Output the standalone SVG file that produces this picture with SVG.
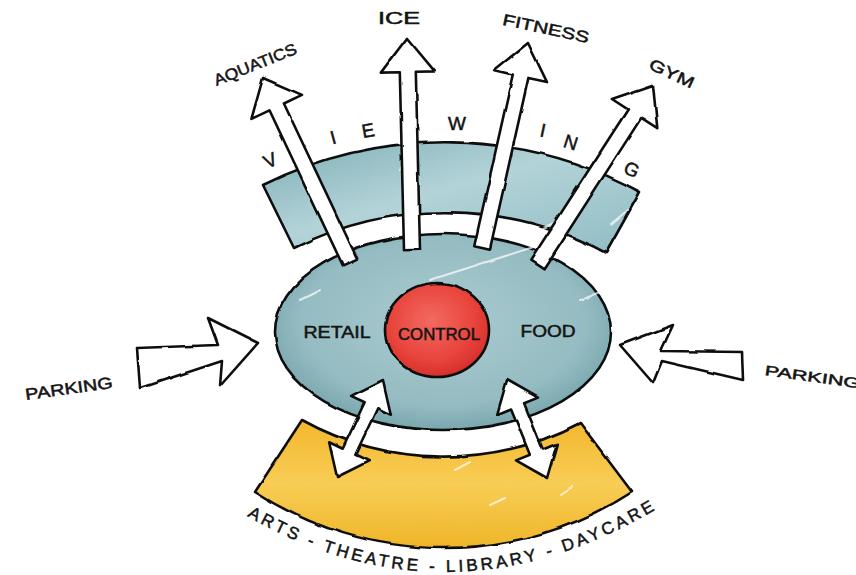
<svg xmlns="http://www.w3.org/2000/svg" width="856" height="575" viewBox="0 0 856 575">
<defs>
  <filter id="rough" x="-5%" y="-5%" width="110%" height="110%">
    <feTurbulence type="fractalNoise" baseFrequency="0.04" numOctaves="2" seed="3" result="n"/>
    <feDisplacementMap in="SourceGraphic" in2="n" scale="3" xChannelSelector="R" yChannelSelector="G"/>
  </filter>
  <linearGradient id="tealBand" x1="0" y1="0" x2="1" y2="1">
    <stop offset="0" stop-color="#7eaeb6"/>
    <stop offset="0.45" stop-color="#b3d3d8"/>
    <stop offset="1" stop-color="#8fbcc3"/>
  </linearGradient>
  <radialGradient id="tealHub" cx="0.5" cy="0.45" r="0.6">
    <stop offset="0" stop-color="#a9cbd0"/>
    <stop offset="0.7" stop-color="#95bcc2"/>
    <stop offset="1" stop-color="#6f9ea6"/>
  </radialGradient>
  <radialGradient id="redHub" cx="0.45" cy="0.4" r="0.6">
    <stop offset="0" stop-color="#f26a60"/>
    <stop offset="0.7" stop-color="#e8433b"/>
    <stop offset="1" stop-color="#d6302c"/>
  </radialGradient>
  <linearGradient id="yellow" x1="0" y1="0" x2="0" y2="1">
    <stop offset="0" stop-color="#f3b72e"/>
    <stop offset="0.5" stop-color="#f8cd55"/>
    <stop offset="1" stop-color="#efb528"/>
  </linearGradient>
  <path id="bottomArc" d="M240,512 Q447,634 658,508"/>
</defs>
<style>
  .ink { stroke:#111; stroke-width:2.6; stroke-linejoin:round; stroke-linecap:round; }
  .arrow { fill:#fff; stroke:#111; stroke-width:2.6; stroke-linejoin:round; }
  .hl { stroke:#fff; stroke-width:2; stroke-linecap:round; opacity:0.7; fill:none; }
  text { font-family:"Liberation Sans", Arial, sans-serif; fill:#141414; stroke:#141414; stroke-width:0.5; }
  .lbl { font-size:16px; text-anchor:middle; }
  .vw { font-size:19px; text-anchor:middle; }
</style>
<rect width="856" height="575" fill="#fff"/>

<g id="viewing-band" filter="url(#rough)">
  <path class="ink" fill="url(#tealBand)" d="M263,185 A408,408 0 0 1 640,192 L606,253 A338,338 0 0 0 294,248 Z"/>
  <path class="hl" d="M400,170 L410,158 M610,225 L628,210 M535,232 L560,220"/>
</g>

<g id="hub" filter="url(#rough)">
  <ellipse class="ink" fill="url(#tealHub)" cx="443" cy="332" rx="168" ry="98"/>
  <path class="hl" d="M430,280 L540,245 M300,300 L320,290 M580,300 L600,292 M290,395 L305,402"/>
</g>

<g id="control" filter="url(#rough)">
  <ellipse class="ink" fill="url(#redHub)" cx="437" cy="330" rx="52" ry="47"/>
</g>

<g id="arts-band" filter="url(#rough)">
  <path class="ink" fill="url(#yellow)" d="M302,420 A293,293 0 0 0 580,423 L632,492 A345,345 0 0 1 255,492 Z"/>
  <path class="hl" d="M455,470 L470,462 M490,505 L505,498 M560,495 L572,487"/>
</g>

<g id="connectors" filter="url(#rough)">
  <polygon class="arrow" points="357.2,258.6 283.9,103.5 302,94.9 263,78 251.4,118.9 269.5,110.3 342.8,265.4"/>
  <polygon class="arrow" points="420,249.8 415.8,71.8 434.8,71.4 407,38 380.8,72.6 399.8,72.2 404,250.2"/>
  <polygon class="arrow" points="489.8,249.8 528.4,77.9 547,82.1 528,43 494.2,70.3 512.8,74.5 474.2,246.2"/>
  <polygon class="arrow" points="543.7,269.3 641.3,117.9 657.3,128.2 653,85 611.9,99 627.9,109.3 530.3,260.7"/>
  <polygon class="arrow" points="383,380 351.1,395.9 364.7,402.3 342.7,448.7 329.1,442.3 337,477 368.9,461.1 355.3,454.7 377.3,408.3 390.9,414.7"/>
  <polygon class="arrow" points="507,380 497.2,414.2 511.1,408.5 529.9,454.7 516,460.4 547,478 556.8,443.8 542.9,449.5 524.1,403.3 538,397.6"/>
  <polygon class="arrow" points="137,348 218,345 208,318 258,343 220,386 222,361 140,388"/>
  <polygon class="arrow" points="620,345 673,325 661,351 742,352 743,380 662,361 653,383"/>
</g>

<g id="aquatics"><text class="lbl" x="255" y="70" transform="rotate(-22 255 64)" textLength="88" lengthAdjust="spacingAndGlyphs">AQUATICS</text></g>
<g id="ice"><text class="lbl" x="399" y="24" font-size="18" textLength="42" lengthAdjust="spacingAndGlyphs">ICE</text></g>
<g id="fitness"><text class="lbl" x="546" y="34" transform="rotate(12 546 28)" textLength="88" lengthAdjust="spacingAndGlyphs">FITNESS</text></g>
<g id="gym"><text class="lbl" x="672" y="79" transform="rotate(25 672 73)" textLength="48" lengthAdjust="spacingAndGlyphs">GYM</text></g>

<g id="viewing-label">
  <text class="vw" x="270" y="167" transform="rotate(-25 270 160)">V</text>
  <text class="vw" x="333" y="144" transform="rotate(-15 333 137)">I</text>
  <text class="vw" x="368" y="137" transform="rotate(-10 368 130)">E</text>
  <text class="vw" x="457" y="130">W</text>
  <text class="vw" x="543" y="137" transform="rotate(12 543 130)">I</text>
  <text class="vw" x="571" y="149" transform="rotate(18 571 142)">N</text>
  <text class="vw" x="632" y="176" transform="rotate(25 632 169)">G</text>
</g>

<g id="retail"><text class="lbl" x="337" y="338" font-size="17" textLength="67" lengthAdjust="spacingAndGlyphs">RETAIL</text></g>
<g id="control-label"><text class="lbl" x="439" y="340" font-size="14" textLength="82" lengthAdjust="spacingAndGlyphs">CONTROL</text></g>
<g id="food"><text class="lbl" x="548" y="337" font-size="18" textLength="55" lengthAdjust="spacingAndGlyphs">FOOD</text></g>

<g id="parking-left"><text class="lbl" x="69" y="394" font-size="14" transform="rotate(-8 69 389)" textLength="88" lengthAdjust="spacingAndGlyphs">PARKING</text></g>
<g id="parking-right"><text x="765" y="375" font-size="14" transform="rotate(8 765 370)" textLength="96" lengthAdjust="spacingAndGlyphs">PARKING</text></g>

<g id="arts-label">
  <text font-size="17"><textPath href="#bottomArc" startOffset="8" textLength="430" lengthAdjust="spacing">ARTS - THEATRE - LIBRARY - DAYCARE</textPath></text>
</g>
</svg>
